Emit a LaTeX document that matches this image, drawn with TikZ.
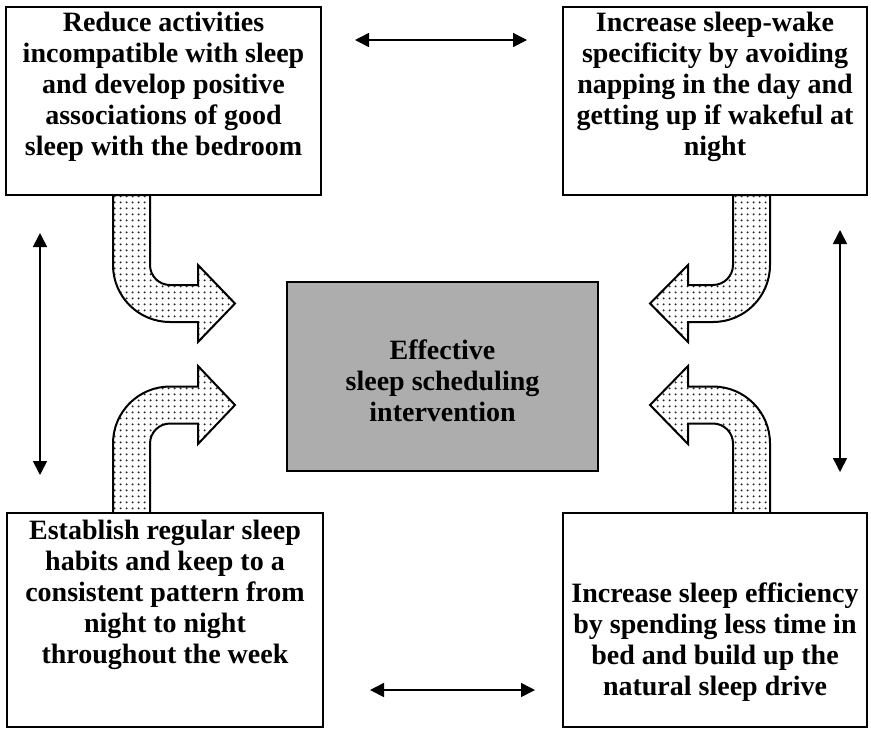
\documentclass[tikz,border=0pt]{standalone}
\usepackage{fontspec}
\setmainfont{Liberation Serif}
\usetikzlibrary{arrows.meta,patterns.meta}
\tikzdeclarepattern{name=spots, type=uncolored,
  bottom left={(0pt,0pt)}, top right={(2.8pt,2.8pt)}, tile size={(2.8pt,2.8pt)},
  code={\pgfpathcircle{\pgfpoint{1.4pt}{1.4pt}}{0.55pt}\pgfusepath{fill}}}
\begin{document}
\begin{tikzpicture}[x=0.5pt,y=-0.5pt,
 box/.style={draw=black, line width=1pt, fill=white, rectangle, inner sep=0pt},
 lbl/.style={anchor=north, align=center, font=\fontsize{14}{15.5}\selectfont\bfseries, inner sep=0pt},
 dbl/.style={{Triangle[length=7pt,width=7pt]}-{Triangle[length=7pt,width=7pt]}, line width=0.8pt},
 blockarrow/.style={draw=black, line width=1pt, line join=miter, pattern={spots}, pattern color=black!85}]
\useasboundingbox (0,0) rectangle (871,729);

% curved block arrows
\path[blockarrow] (113,195) -- (113,265) .. controls (113,296.5) and (138.5,322) .. (170,322)
  -- (198,322) -- (198,342) -- (235,303.5) -- (198,265) -- (198,285) -- (170,285)
  .. controls (159,285) and (150,276) .. (150,265) -- (150,195) -- cycle;
\path[blockarrow] (113,513) -- (113,443.5) .. controls (113,412) and (138.5,386.5) .. (170,386.5)
  -- (198,386.5) -- (198,366) -- (235,405) -- (198,444) -- (198,423.5) -- (170,423.5)
  .. controls (159,423.5) and (150,432.5) .. (150,443.5) -- (150,513) -- cycle;
\path[blockarrow] (770,195) -- (770,265) .. controls (770,296.5) and (744.5,322) .. (713,322)
  -- (688,322) -- (688,342) -- (650,303.5) -- (688,265) -- (688,285) -- (713,285)
  .. controls (724,285) and (733,276) .. (733,265) -- (733,195) -- cycle;
\path[blockarrow] (770,513) -- (770,443.5) .. controls (770,412) and (744.5,386.5) .. (713,386.5)
  -- (688,386.5) -- (688,366) -- (650,405) -- (688,444) -- (688,423.5) -- (713,423.5)
  .. controls (724,423.5) and (733,432.5) .. (733,443.5) -- (733,513) -- cycle;

% boxes
\node[box, minimum width=157.5pt, minimum height=94pt] (tl) at (163.5,101) {};
\node[box, minimum width=152pt, minimum height=94pt] (tr) at (715,101) {};
\node[box, minimum width=158pt, minimum height=107pt] (bl) at (165,620) {};
\node[box, minimum width=152pt, minimum height=107pt] (br) at (715,620) {};
\node[box, fill=black!32, minimum width=155.5pt, minimum height=94.5pt] (c) at (442.5,376.5) {};

% texts
\node[lbl] (tlt) at (163.5,12) {Reduce activities\\incompatible with sleep\\and develop positive\\associations of good\\sleep with the bedroom};
\node[lbl] (trt) at (715,12) {Increase sleep-wake\\specificity by avoiding\\napping in the day and\\getting up if wakeful at\\night};
\node[lbl] (blt) at (165,520) {Establish regular sleep\\habits and keep to a\\consistent pattern from\\night to night\\throughout the week};
\node[lbl] (brt) at (715,582) {Increase sleep efficiency\\by spending less time in\\bed and build up the\\natural sleep drive};
\node[lbl] (ct) at (442.5,339) {Effective\\sleep scheduling\\intervention};

% double arrows
\coordinate (t1) at (355,40); \coordinate (t2) at (527,40);
\coordinate (b1) at (370,690); \coordinate (b2) at (535,690);
\coordinate (l1) at (40,233); \coordinate (l2) at (40,475);
\coordinate (r1) at (840,230); \coordinate (r2) at (840,472);
\draw[dbl] (t1) -- (t2);
\draw[dbl] (b1) -- (b2);
\draw[dbl] (l1) -- (l2);
\draw[dbl] (r1) -- (r2);
\end{tikzpicture}
\end{document}
